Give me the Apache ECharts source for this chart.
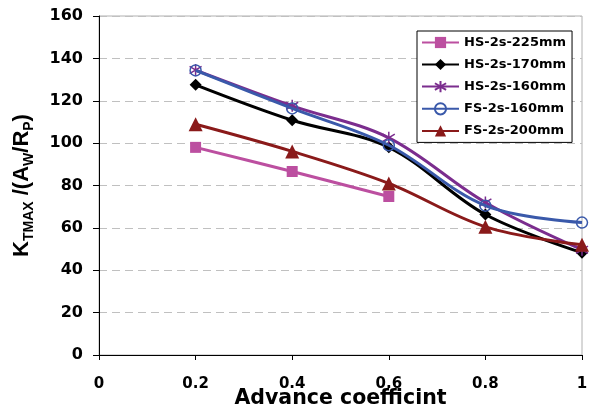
<!DOCTYPE html>
<html>
<head>
<meta charset="utf-8">
<script src="https://cdn.jsdelivr.net/npm/echarts@6/dist/echarts.min.js"></script>
<style>html,body{margin:0;padding:0;background:#fff}#c{width:594px;height:415px}</style>
</head>
<body>
<div id="c"></div>
<script>
var xValues = [0.2, 0.4, 0.6, 0.8, 1.0];
var seriesNames = ['HS-2s-225mm', 'HS-2s-170mm', 'HS-2s-160mm', 'FS-2s-160mm', 'FS-2s-200mm'];
var hs225 = [98, 86.6, 74.8];
var hs170 = [127.5, 110.8, 98, 66.3, 48.3];
var hs160 = [134.5, 117.6, 102.5, 72, 49.7];
var fs160 = [134.3, 116.4, 99, 70.5, 62.5];
var fs200 = [108.9, 96.1, 81, 60.5, 52];
var yTicks = [0, 20, 40, 60, 80, 100, 120, 140, 160];
var xTicks = [0, 0.2, 0.4, 0.6, 0.8, 1];

function pairs(vals) { return vals.map(function (v, i) { return [xValues[i], v]; }); }

var starPath = 'path://M10,0 L10,20 M2,4 L18,16 M2,16 L18,4';
var styles = [
  { color: '#BC4FA0', symbol: 'rect', size: 11 },
  { color: '#000000', symbol: 'diamond', size: 12 },
  { color: '#7B2D8E', symbol: starPath, size: 12 },
  { color: '#3A59AA', symbol: 'circle', size: 11, hollow: true },
  { color: '#8A1A1A', symbol: 'triangle', size: 14 }
];
var allData = [hs225, hs170, hs160, fs160, fs200];

var series = allData.map(function (d, i) {
  var s = styles[i];
  var o = {
    name: seriesNames[i], type: 'line', data: pairs(d), smooth: 0.35,
    symbol: s.symbol, symbolSize: s.size,
    lineStyle: { color: s.color, width: 3 },
    itemStyle: { color: s.color, borderColor: s.color, borderWidth: 0 },
    z: 2 + i
  };
  if (s.hollow || s.symbol === starPath) {
    o.itemStyle = { color: 'rgba(0,0,0,0)', borderColor: s.color, borderWidth: 1.5 };
  }
  return o;
});

var TF = 'DejaVu Sans, Liberation Sans, Arial';
var chart = echarts.init(document.getElementById('c'), null, { renderer: 'canvas' });
chart.setOption({
  animation: false,
  backgroundColor: '#fff',
  grid: { left: 99, right: 12, top: 16, bottom: 60, show: true, borderColor: '#b0b0b0', borderWidth: 1,
    containLabel: false, outerBoundsMode: 'none' },
  legend: {
    orient: 'vertical', left: 417, top: 31,
    data: seriesNames,
    borderColor: '#000', borderWidth: 1, backgroundColor: '#fff',
    padding: [5, 6, 5, 4], itemGap: 9, itemWidth: 37, itemHeight: 14,
    textStyle: { fontFamily: TF, fontWeight: 'bold', fontSize: 13, color: '#000' }
  },
  xAxis: {
    type: 'value', min: 0, max: 1, interval: 0.2,
    name: 'Advance coefficint', nameLocation: 'middle', nameGap: 33, nameMoveOverlap: false,
    nameTextStyle: { fontFamily: TF, fontWeight: 'bold', fontSize: 20.5, color: '#000' },
    axisLine: { lineStyle: { color: '#000', width: 1 } },
    axisTick: { show: true, length: 5, lineStyle: { color: '#000' } },
    axisLabel: { margin: 22, fontFamily: TF, fontWeight: 'bold', fontSize: 15, color: '#000',
      formatter: function (v) { return String(Math.round(v * 10) / 10); } },
    splitLine: { show: false }
  },
  yAxis: {
    type: 'value', min: 0, max: 160, interval: 20,
    name: '{k|K}{s|TMAX}{k| /(A}{s|W}{k|/R}{s|P}{k|)}', nameLocation: 'middle', nameGap: 66, nameRotate: 90,
    nameMoveOverlap: false,
    nameTextStyle: {
      fontFamily: 'Liberation Sans, Arial', fontWeight: 'bold', color: '#000',
      rich: {
        k: { fontFamily: 'Liberation Sans, Arial', fontWeight: 'bold', fontSize: 22, color: '#000', verticalAlign: 'bottom', lineHeight: 24 },
        s: { fontFamily: 'Liberation Sans, Arial', fontWeight: 'bold', fontSize: 14, color: '#000', verticalAlign: 'bottom', lineHeight: 24, padding: [0, 0, -3, 0] }
      }
    },
    axisLine: { show: true, lineStyle: { color: '#000', width: 1 } },
    axisTick: { show: true, length: 6, lineStyle: { color: '#000' } },
    axisLabel: { margin: 16, fontFamily: TF, fontWeight: 'bold', fontSize: 16, color: '#000' },
    splitLine: { show: true, lineStyle: { color: '#c0c0c0', type: [8, 5], width: 1 } }
  },
  series: series
});
</script>
</body>
</html>
